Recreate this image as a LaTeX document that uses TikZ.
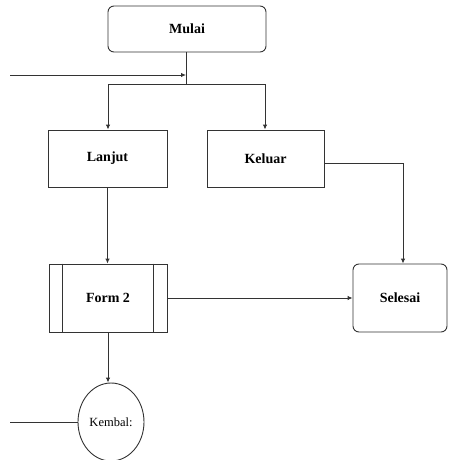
\documentclass[tikz,border=0pt]{standalone}
\usepackage{fontspec}
\setmainfont{Liberation Serif}
\usetikzlibrary{arrows.meta,shapes.geometric}
\begin{document}
\begin{tikzpicture}[x=1pt,y=-1pt,
  ln/.style={draw=black!80,line width=0.9pt},
  arr/.style={ln,-{Latex[length=5pt,width=4.5pt]}},
  rbox/.style={ln,rounded corners=6pt,inner sep=0pt,font=\bfseries\fontsize{14}{16}\selectfont},
  pbox/.style={ln,inner sep=0pt,font=\bfseries\fontsize{14}{16}\selectfont},
  circ/.style={ln,ellipse,inner sep=0pt,font=\fontsize{12.5}{14}\selectfont}]
\useasboundingbox (0,0) rectangle (448,460);
\begin{scope}
\clip (0,0) rectangle (448,460);
\node[rbox,minimum width=158pt,minimum height=46pt] (mulai) at (187,29) {Mulai};
\node[pbox,minimum width=119pt,minimum height=57pt] (lanjut) at (107.5,158.5) {Lanjut};
\node[pbox,minimum width=117pt,minimum height=57pt] (keluar) at (265.5,158.5) {Keluar};
\node[pbox,minimum width=118pt,minimum height=68pt] (form) at (108,298) {Form 2};
\node[rbox,minimum width=94pt,minimum height=68pt] (selesai) at (400,298) {Selesai};
\node[circ,minimum width=66pt,minimum height=78pt] (kembali) at (111,422) {Kembal:};
\draw[ln] ([xshift=14pt]form.north west) -- ([xshift=14pt]form.south west);
\draw[ln] ([xshift=-14pt]form.north east) -- ([xshift=-14pt]form.south east);
\coordinate (split) at (186,84);
\coordinate (inA) at (10,75);
\coordinate (inB) at (186,75);
\coordinate (sL) at (108,84);
\coordinate (sR) at (265,84);
\coordinate (kin) at (10,422);
\draw[ln] (mulai.south -| split) -- (split);
\draw[arr] (inA) -- (inB);
\draw[ln] (sL) -- (sR);
\draw[arr] (sL) -- (sL |- lanjut.north);
\draw[arr] (sR) -- (sR |- keluar.north);
\draw[arr] ([yshift=-4.5pt]keluar.east) -| ([xshift=3pt]selesai.north);
\draw[arr] (lanjut.south) -- (lanjut.south |- form.north);
\draw[arr] (form.east) -- (selesai.west);
\draw[arr] (form.south) -- (form.south |- kembali.north);
\draw[ln] (kin) -- (kembali.west);
\end{scope}
\end{tikzpicture}
\end{document}
